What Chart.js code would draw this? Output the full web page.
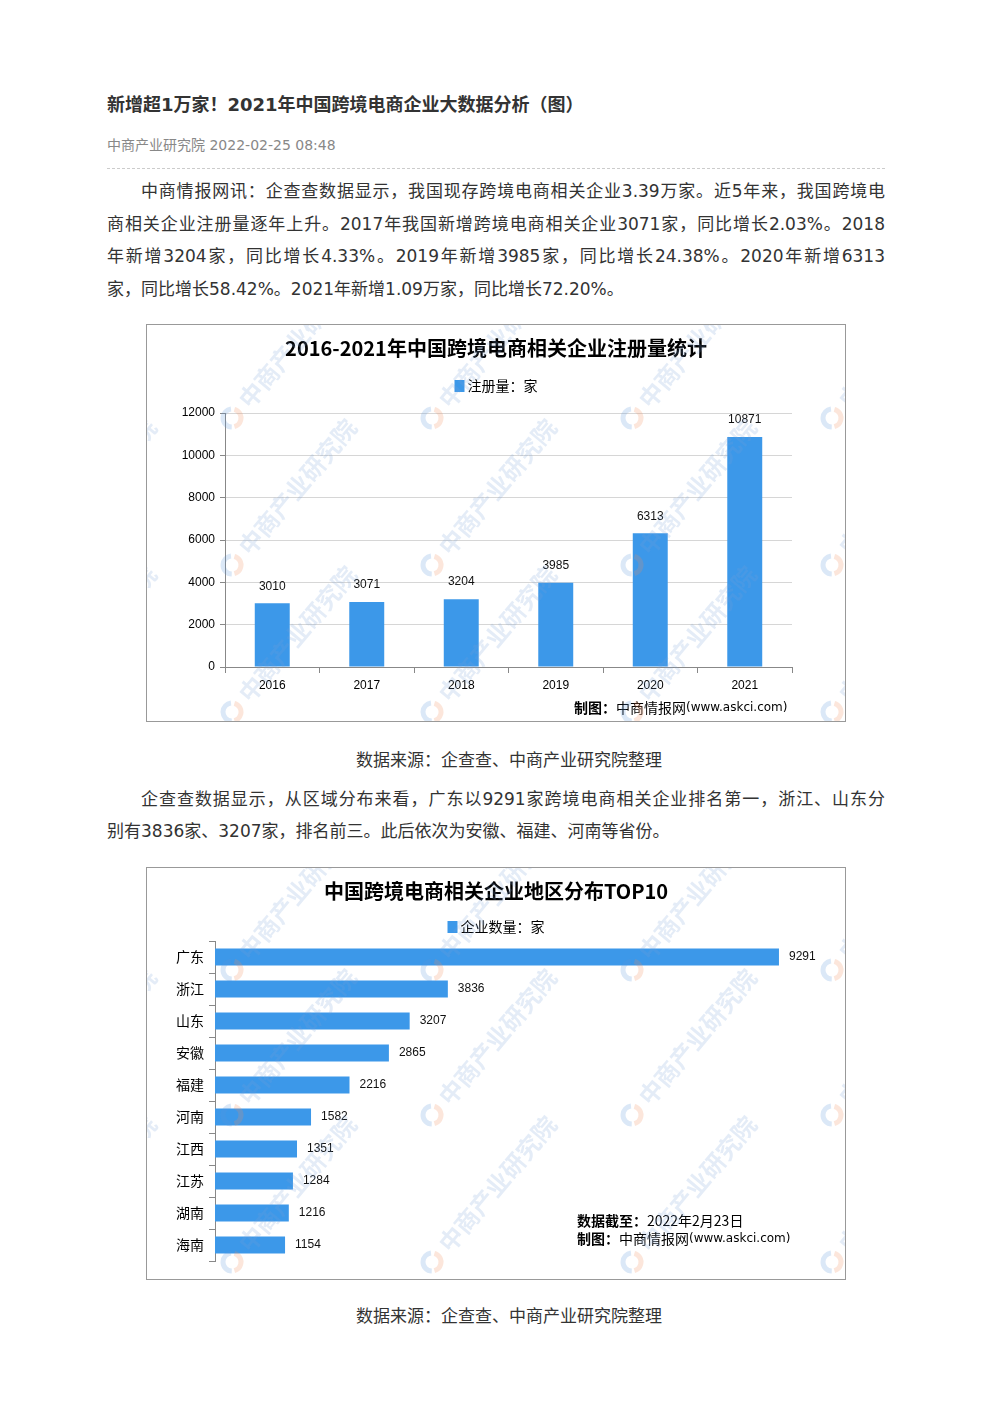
<!DOCTYPE html>
<html>
<head>
<meta charset="utf-8">
<script src="https://cdn.jsdelivr.net/npm/chart.js@4.4.0/dist/chart.umd.min.js"></script>
<style>
  body{margin:0;background:#fff;width:992px;height:1403px;position:relative;
       font-family:"DejaVu Sans","Noto Sans CJK SC",sans-serif;color:#333;}
  .title{position:absolute;left:107px;top:92px;font-size:18px;line-height:26px;font-weight:bold;color:#333;}
  .meta{position:absolute;left:107px;top:135px;font-size:14px;line-height:20px;color:#888;}
  .rule{position:absolute;left:107px;top:168px;width:778px;border-top:1px dashed #ccc;}
  .line{position:absolute;left:107px;width:778px;font-size:17px;line-height:24px;
        text-align:justify;text-align-last:justify;}
  .line.last{text-align-last:left;}
  .indent{text-indent:34px;}
  .caption{position:absolute;left:356px;font-size:17px;line-height:24px;}
  .box{position:absolute;left:146px;border:1px solid #999;}
  canvas{display:block;}
</style>
</head>
<body>
<div class="title">新增超1万家！2021年中国跨境电商企业大数据分析（图）</div>
<div class="meta">中商产业研究院 2022-02-25 08:48</div>
<div class="rule"></div>

<div class="line indent" style="top:179px">中商情报网讯：企查查数据显示，我国现存跨境电商相关企业3.39万家。近5年来，我国跨境电</div>
<div class="line" style="top:212px">商相关企业注册量逐年上升。2017年我国新增跨境电商相关企业3071家，同比增长2.03%。2018</div>
<div class="line" style="top:244px">年新增3204家，同比增长4.33%。2019年新增3985家，同比增长24.38%。2020年新增6313</div>
<div class="line last" style="top:277px">家，同比增长58.42%。2021年新增1.09万家，同比增长72.20%。</div>

<div class="box" style="top:324px"><canvas id="c1" width="698" height="396"></canvas></div>
<div class="caption" style="top:748px">数据来源：企查查、中商产业研究院整理</div>

<div class="line indent" style="top:787px">企查查数据显示，从区域分布来看，广东以9291家跨境电商相关企业排名第一，浙江、山东分</div>
<div class="line last" style="top:819px">别有3836家、3207家，排名前三。此后依次为安徽、福建、河南等省份。</div>

<div class="box" style="top:867px"><canvas id="c2" width="698" height="411"></canvas></div>
<div class="caption" style="top:1304px">数据来源：企查查、中商产业研究院整理</div>

<script>
// 注册量
const years = ['2016', '2017', '2018', '2019', '2020', '2021'];
const registrations = [3010, 3071, 3204, 3985, 6313, 10871];
const regTicks = [0, 2000, 4000, 6000, 8000, 10000, 12000];

// 地区分布
const provinces = ['广东', '浙江', '山东', '安徽', '福建', '河南', '江西', '江苏', '湖南', '海南'];
const companyCounts = [9291, 3836, 3207, 2865, 2216, 1582, 1351, 1284, 1216, 1154];

const BLUE = '#3c98e9';
const CJK = '"Noto Sans CJK SC"';
Chart.defaults.font.family = '"Liberation Sans","Noto Sans CJK SC",sans-serif';
Chart.defaults.color = '#000';

const watermark = {
  id: 'watermark',
  afterDraw(chart, args, opts) {
    const ctx = chart.ctx;
    for (const [x, y] of opts.spots) {
      ctx.save();
      ctx.translate(x, y);
      ctx.lineWidth = 5;
      ctx.strokeStyle = 'rgba(240,140,90,0.22)';
      ctx.beginPath(); ctx.arc(0, 0, 9, -1.3, 1.3); ctx.stroke();
      ctx.strokeStyle = 'rgba(90,150,220,0.22)';
      ctx.beginPath(); ctx.arc(0, 0, 9, 1.6, 4.6); ctx.stroke();
      ctx.rotate(-50 * Math.PI / 180);
      ctx.font = 'bold 24px ' + CJK;
      ctx.fillStyle = 'rgba(120,160,215,0.2)';
      ctx.textBaseline = 'middle';
      ctx.fillText('中商产业研究院', 18, 0);
      ctx.restore();
    }
  }
};

const header = {
  id: 'header',
  afterDraw(chart, args, o) {
    const ctx = chart.ctx;
    ctx.save();
    ctx.fillStyle = '#000';
    ctx.textBaseline = 'middle';
    ctx.textAlign = 'center';
    ctx.font = 'bold 20px ' + CJK;
    ctx.fillText(o.title, o.centerX, o.titleY);

    const ds = chart.data.datasets[0];
    ctx.font = '14px ' + CJK;
    const tw = ctx.measureText(ds.label).width;
    const x0 = o.centerX - (13 + tw) / 2;
    ctx.fillStyle = ds.backgroundColor;
    ctx.fillRect(x0, o.legendY - 6, 10, 12);
    ctx.fillStyle = '#000';
    ctx.textAlign = 'left';
    ctx.fillText(ds.label, x0 + 13, o.legendY);

    for (const n of o.notes) {
      let x = n.x;
      for (const [txt, font] of n.parts) {
        ctx.font = font;
        ctx.fillText(txt, x, n.y);
        x += ctx.measureText(txt).width;
      }
    }
    ctx.restore();
  }
};

const valueLabels = {
  id: 'valueLabels',
  afterDatasetsDraw(chart) {
    const ctx = chart.ctx;
    const data = chart.data.datasets[0].data;
    const horizontal = chart.options.indexAxis === 'y';
    ctx.save();
    ctx.font = '12px "Liberation Sans"';
    ctx.fillStyle = '#111';
    ctx.textBaseline = 'middle';
    chart.getDatasetMeta(0).data.forEach((bar, i) => {
      if (horizontal) {
        ctx.textAlign = 'left';
        ctx.fillText(data[i], bar.x + 10, bar.y);
      } else {
        ctx.textAlign = 'center';
        ctx.fillText(data[i], bar.x, bar.y - 17);
      }
    });
    ctx.restore();
  }
};

function spots(x0, ys) {
  const out = [];
  for (const y of ys) for (let k = 0; k < 5; k++) out.push([x0 + 200 * k, y]);
  return out;
}

const credit = [['制图：', 'bold 14px ' + CJK], ['中商情报网', '14px ' + CJK], ['(www.askci.com)', '12px "DejaVu Sans"']];

new Chart(document.getElementById('c1'), {
  type: 'bar',
  data: {
    labels: years,
    datasets: [{
      label: '注册量：家',
      data: registrations,
      backgroundColor: BLUE,
      barPercentage: 0.37,
      categoryPercentage: 1
    }]
  },
  options: {
    responsive: false,
    animation: false,
    layout: {padding: {top: 88, left: 0, right: 53, bottom: 0}},
    plugins: {
      legend: {display: false},
      tooltip: {enabled: false},
      header: {
        title: '2016-2021年中国跨境电商相关企业注册量统计',
        centerX: 349, titleY: 23, legendY: 61,
        notes: [{x: 427, y: 383, parts: credit}]
      },
      watermark: {spots: spots(-115, [93, 240, 387])}
    },
    scales: {
      x: {
        grid: {drawOnChartArea: false, tickLength: 6, color: '#888'},
        border: {color: '#888'},
        ticks: {font: {size: 12}, padding: 5},
        afterFit: s => { s.height = 54; }
      },
      y: {
        min: 0, max: 12000,
        afterBuildTicks: s => { s.ticks = regTicks.map(v => ({value: v})); },
        grid: {color: '#d6d6d6', tickColor: '#888', tickLength: 5},
        border: {color: '#888'},
        ticks: {font: {size: 12}, padding: 5, callback: v => String(v)},
        afterFit: s => { s.width = 78; }
      }
    }
  },
  plugins: [header, valueLabels, watermark]
});

new Chart(document.getElementById('c2'), {
  type: 'bar',
  data: {
    labels: provinces,
    datasets: [{
      label: '企业数量：家',
      data: companyCounts,
      backgroundColor: BLUE,
      barPercentage: 0.53,
      categoryPercentage: 1
    }]
  },
  options: {
    indexAxis: 'y',
    responsive: false,
    animation: false,
    layout: {padding: {top: 73, left: 0, right: 23, bottom: 18}},
    plugins: {
      legend: {display: false},
      tooltip: {enabled: false},
      header: {
        title: '中国跨境电商相关企业地区分布TOP10',
        centerX: 349, titleY: 23, legendY: 59,
        notes: [
          {x: 430, y: 353, parts: [['数据截至：', 'bold 14px ' + CJK], ['2022年2月23日', '14px ' + CJK]]},
          {x: 430, y: 371, parts: credit}
        ]
      },
      watermark: {spots: spots(-115, [102, 247, 394])}
    },
    scales: {
      x: {min: 0, max: 10000, display: false},
      y: {
        grid: {drawOnChartArea: false, tickLength: 6, color: '#888'},
        border: {color: '#888'},
        ticks: {font: {size: 14, family: CJK}, padding: 5},
        afterFit: s => { s.width = 68; }
      }
    }
  },
  plugins: [header, valueLabels, watermark]
});
</script>
</body>
</html>
